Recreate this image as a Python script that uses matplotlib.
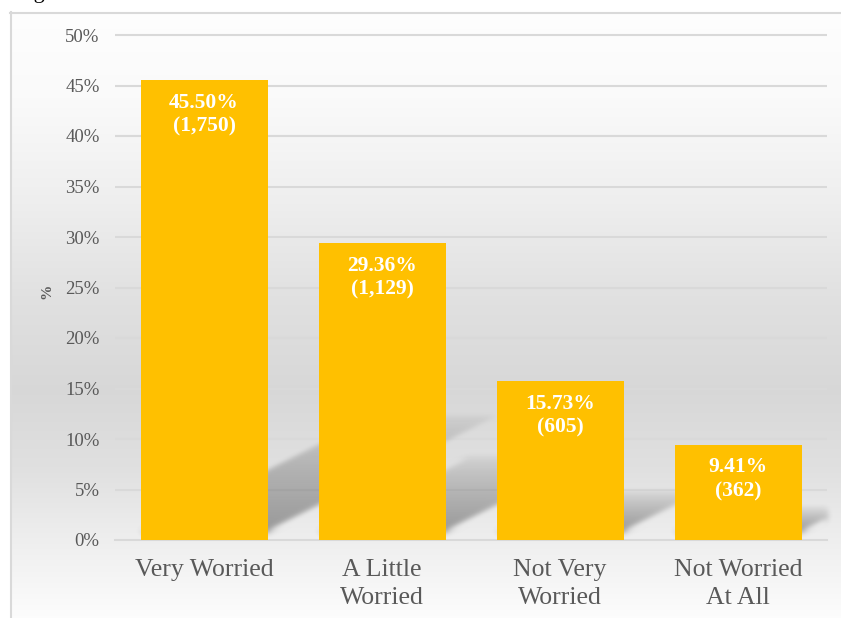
import numpy as np
import matplotlib
matplotlib.use("Agg")
import matplotlib.pyplot as plt
from matplotlib.patches import Polygon
from matplotlib.lines import Line2D

# --- data ---
categories = ["Very Worried", "A Little\nWorried", "Not Very\nWorried", "Not Worried\nAt All"]
percents = [45.50, 29.36, 15.73, 9.41]
counts = [1750, 1129, 605, 362]
yticks = [0, 5, 10, 15, 20, 25, 30, 35, 40, 45, 50]

W, H = 841, 618
DPI = 100
BAR_COLOR = "#FFC000"
GRID_COLOR = "#D9D9D9"
TEXT_COLOR = "#595959"
SERIF = ["Liberation Serif", "DejaVu Serif"]

fig = plt.figure(figsize=(W / DPI, H / DPI), dpi=DPI)
fig.patch.set_facecolor("white")

# chart-area background: vertical light-grey gradient
bg = fig.add_axes([10 / W, 0, (W - 10) / W, (H - 12) / H], zorder=-10)
rows = np.arange(12, H)
stops_y = [12, 100, 200, 300, 390, 470, 540, 618]
stops_v = [0.995, 0.980, 0.935, 0.880, 0.845, 0.880, 0.935, 0.990]
vals = np.interp(rows, stops_y, stops_v)
img = np.repeat(vals[:, None, None], 3, axis=2)
bg.imshow(img, aspect="auto", extent=[0, 1, 0, 1], interpolation="bilinear")
bg.set_axis_off()

# chart-area border (left and top edges)
fig.add_artist(Line2D([10.5 / W, 10.5 / W], [0, 1 - 12 / H], color=GRID_COLOR, lw=1.5))
fig.add_artist(Line2D([10 / W, 1], [1 - 12.5 / H, 1 - 12.5 / H], color=GRID_COLOR, lw=1.5))

# plot area
y_top_val = 50.5
px_per_unit = (540 - 35) / 50.0
top_px = 540 - y_top_val * px_per_unit
ax = fig.add_axes([115 / W, (H - 540) / H, (827 - 115) / W, (540 - top_px) / H])
ax.set_facecolor("none")
ax.set_xlim(-0.5, 3.5)
ax.set_ylim(0, y_top_val)

x = np.arange(len(categories))
bar_w = 127 / 178


def fading_blur(sigma_px, top_alpha):
    """Fade the shadow toward its far (top) end, then soften it."""
    def _filter(im, dpi):
        ny, nx, d = im.shape
        im = im.copy()
        ramp = np.linspace(0.0, 1.0, ny) ** 0.8
        ramp = top_alpha + (1.0 - top_alpha) * ramp
        im[:, :, 3] *= ramp[:, None]
        pad = int(3 * sigma_px) + 1
        out = np.zeros((ny + 2 * pad, nx + 2 * pad, d))
        out[pad:pad + ny, pad:pad + nx] = im
        k = np.arange(-pad, pad + 1)
        w = np.exp(-0.5 * (k / sigma_px) ** 2)
        w /= w.sum()
        tmp = np.zeros_like(out)
        for wi, ki in zip(w, k):
            tmp += wi * np.roll(out, ki, axis=0)
        res = np.zeros_like(out)
        for wi, ki in zip(w, k):
            res += wi * np.roll(tmp, ki, axis=1)
        return res, -pad, -pad
    return _filter


# perspective shadows cast up-and-right behind each bar
px_per_cat = 178.0
lift = 0.8
for xi, p in zip(x, percents):
    dy = 0.25 * p                      # shadow rise (data units)
    dx = 2 * dy * px_per_unit / px_per_cat
    x0, x1 = xi - bar_w / 2, xi + bar_w / 2
    poly = Polygon([(x0, lift), (x1, lift), (x1 + dx, dy + lift), (x0 + dx, dy + lift)],
                   closed=True, facecolor=(0.38, 0.38, 0.38), edgecolor="none",
                   alpha=0.6, zorder=1)
    poly.set_agg_filter(fading_blur(3.0, 0.15))
    poly.set_rasterized(True)
    ax.add_patch(poly)

ax.bar(x, percents, width=bar_w, color=BAR_COLOR, zorder=3)

for xi, p, n in zip(x, percents, counts):
    ax.annotate(f"{p:.2f}%\n({n:,})", xy=(xi, p), xytext=(0, -9), textcoords="offset points",
                ha="center", va="top", color="white", fontsize=15.5, fontweight="bold",
                family=SERIF, linespacing=1.25, zorder=4)

# grid and axes styling
ax.set_yticks(yticks)
ax.set_yticklabels([f"{t}%" for t in yticks])
ax.yaxis.grid(True, color=GRID_COLOR, lw=1.5, zorder=0)
ax.set_axisbelow(True)
for s in ["left", "right", "top"]:
    ax.spines[s].set_visible(False)
ax.spines["bottom"].set_color(GRID_COLOR)
ax.spines["bottom"].set_linewidth(1.5)
ax.spines["bottom"].set_zorder(2)
ax.tick_params(axis="y", length=0, pad=11, labelsize=13.5, labelcolor=TEXT_COLOR)
ax.tick_params(axis="x", length=0, pad=14, labelsize=18.5, labelcolor=TEXT_COLOR)
ax.set_xticks(x)
ax.set_xticklabels(categories, linespacing=1.3)
for lab in ax.get_xticklabels() + ax.get_yticklabels():
    lab.set_family(SERIF)

fig.text(47 / W, 1 - 291 / H, "%", rotation=90, ha="center", va="center",
         fontsize=11, fontweight="bold", color=TEXT_COLOR, family=SERIF)

# caption above the chart, mostly outside the canvas
fig.text(15 / W, 1 + 2 / H, "Figure", ha="left", va="baseline", fontsize=16,
         color="black", family=SERIF)

fig.savefig("out.png", dpi=DPI, facecolor="white")
